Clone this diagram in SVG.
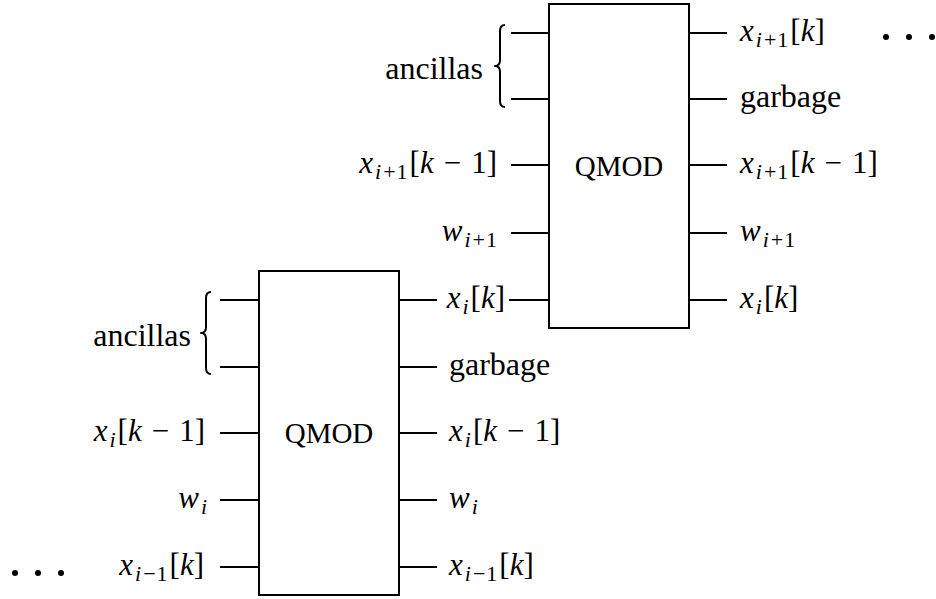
<svg xmlns="http://www.w3.org/2000/svg" width="936" height="599" viewBox="0 0 936 599">
<style>
.box{fill:#fff;stroke:#000;stroke-width:2}
.w{stroke:#000;stroke-width:2;fill:none}
.br{stroke:#000;stroke-width:2;fill:none;stroke-linejoin:round}
.t{font-family:"Liberation Serif","Times New Roman",serif;font-size:32px;fill:#000}
.m{font-family:"Liberation Serif","Times New Roman",serif;font-size:31px;fill:#000}
.q{font-family:"Liberation Serif","Times New Roman",serif;font-size:29px;fill:#000}
.i{font-style:italic}
.s{font-size:22px}
.e{text-anchor:end}
</style>
<rect width="936" height="599" fill="#fff"/>
<g id="connectors">
<line class="w" x1="511" y1="33" x2="549" y2="33"/>
<line class="w" x1="511" y1="99" x2="549" y2="99"/>
<line class="w" x1="511" y1="165" x2="549" y2="165"/>
<line class="w" x1="511" y1="233" x2="549" y2="233"/>
<line class="w" x1="509" y1="300" x2="549" y2="300"/>
<line class="w" x1="689" y1="33" x2="727" y2="33"/>
<line class="w" x1="689" y1="99" x2="727" y2="99"/>
<line class="w" x1="689" y1="165" x2="727" y2="165"/>
<line class="w" x1="689" y1="233" x2="727" y2="233"/>
<line class="w" x1="689" y1="300" x2="727" y2="300"/>
<line class="w" x1="220" y1="300" x2="259" y2="300"/>
<line class="w" x1="220" y1="367" x2="259" y2="367"/>
<line class="w" x1="220" y1="433" x2="259" y2="433"/>
<line class="w" x1="220" y1="500" x2="259" y2="500"/>
<line class="w" x1="220" y1="567" x2="259" y2="567"/>
<line class="w" x1="399" y1="300" x2="437" y2="300"/>
<line class="w" x1="399" y1="367" x2="437" y2="367"/>
<line class="w" x1="399" y1="433" x2="437" y2="433"/>
<line class="w" x1="399" y1="500" x2="437" y2="500"/>
<line class="w" x1="399" y1="567" x2="437" y2="567"/>
</g>
<g id="qmod_top">
<rect class="box" x="549" y="4" width="140" height="324"/>
<text class="q" x="619" y="176" text-anchor="middle">QMOD</text>
</g>
<g id="qmod_bottom">
<rect class="box" x="259" y="271" width="140" height="324"/>
<text class="q" x="329" y="443" text-anchor="middle">QMOD</text>
</g>
<g id="labels_top">
<text class="t e" x="483" y="79">ancillas</text>
<path class="br" d="M505,25 Q500,25 500,31 L500,60 Q500,66 495,66 Q500,66 500,72 L500,101 Q500,107 505,107"/>
<text class="m e" x="497" y="173"><tspan class="i">x</tspan><tspan class="s" dy="6" dx="2"><tspan class="i">i</tspan><tspan dx="2">+</tspan><tspan dx="1">1</tspan></tspan><tspan dy="-6" dx="2">[</tspan><tspan class="i">k</tspan><tspan dx="10">−</tspan><tspan dx="10">1]</tspan></text>
<text class="m e" x="497" y="241"><tspan class="i">w</tspan><tspan class="s" dy="6" dx="2"><tspan class="i">i</tspan><tspan dx="2">+</tspan><tspan dx="1">1</tspan></tspan></text>
<text class="m e" x="505" y="308"><tspan class="i">x</tspan><tspan class="s i" dy="6" dx="2">i</tspan><tspan dy="-6" dx="2">[</tspan><tspan class="i">k</tspan>]</text>
<text class="m" x="740" y="41"><tspan class="i">x</tspan><tspan class="s" dy="6" dx="2"><tspan class="i">i</tspan><tspan dx="2">+</tspan><tspan dx="1">1</tspan></tspan><tspan dy="-6" dx="2">[</tspan><tspan class="i">k</tspan>]</text>
<text class="t" x="740" y="107">garbage</text>
<text class="m" x="740" y="173"><tspan class="i">x</tspan><tspan class="s" dy="6" dx="2"><tspan class="i">i</tspan><tspan dx="2">+</tspan><tspan dx="1">1</tspan></tspan><tspan dy="-6" dx="2">[</tspan><tspan class="i">k</tspan><tspan dx="10">−</tspan><tspan dx="10">1]</tspan></text>
<text class="m" x="740" y="241"><tspan class="i">w</tspan><tspan class="s" dy="6" dx="2"><tspan class="i">i</tspan><tspan dx="2">+</tspan><tspan dx="1">1</tspan></tspan></text>
<text class="m" x="740" y="308"><tspan class="i">x</tspan><tspan class="s i" dy="6" dx="2">i</tspan><tspan dy="-6" dx="2">[</tspan><tspan class="i">k</tspan>]</text>
<circle cx="886" cy="37" r="3"/>
<circle cx="909" cy="37" r="3"/>
<circle cx="932" cy="37" r="3"/>
</g>
<g id="labels_bottom">
<text class="t e" x="191" y="346">ancillas</text>
<path class="br" d="M211,292 Q206,292 206,298 L206,327 Q206,333 201,333 Q206,333 206,339 L206,368 Q206,374 211,374"/>
<text class="m e" x="205" y="441"><tspan class="i">x</tspan><tspan class="s i" dy="6" dx="2">i</tspan><tspan dy="-6" dx="2">[</tspan><tspan class="i">k</tspan><tspan dx="10">−</tspan><tspan dx="10">1]</tspan></text>
<text class="m e" x="207" y="508"><tspan class="i">w</tspan><tspan class="s i" dy="6" dx="2">i</tspan></text>
<text class="m e" x="204" y="575"><tspan class="i">x</tspan><tspan class="s" dy="6" dx="2"><tspan class="i">i</tspan><tspan dx="2">−</tspan><tspan dx="1">1</tspan></tspan><tspan dy="-6" dx="2">[</tspan><tspan class="i">k</tspan>]</text>
<text class="t" x="449" y="375">garbage</text>
<text class="m" x="449" y="441"><tspan class="i">x</tspan><tspan class="s i" dy="6" dx="2">i</tspan><tspan dy="-6" dx="2">[</tspan><tspan class="i">k</tspan><tspan dx="10">−</tspan><tspan dx="10">1]</tspan></text>
<text class="m" x="449" y="508"><tspan class="i">w</tspan><tspan class="s i" dy="6" dx="2">i</tspan></text>
<text class="m" x="449" y="575"><tspan class="i">x</tspan><tspan class="s" dy="6" dx="2"><tspan class="i">i</tspan><tspan dx="2">−</tspan><tspan dx="1">1</tspan></tspan><tspan dy="-6" dx="2">[</tspan><tspan class="i">k</tspan>]</text>
<circle cx="15" cy="573" r="3"/>
<circle cx="38" cy="573" r="3"/>
<circle cx="61" cy="573" r="3"/>
</g>
</svg>
